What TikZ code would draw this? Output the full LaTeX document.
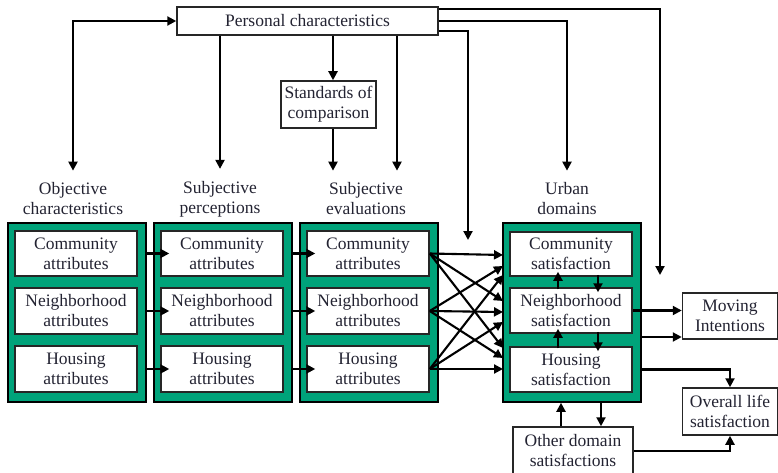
\documentclass[tikz,border=0pt]{standalone}
\usepackage{fontspec}
\setmainfont{Liberation Serif}
\usetikzlibrary{arrows.meta,calc}
\definecolor{panelgreen}{RGB}{0,163,122}
\definecolor{txt}{RGB}{35,35,50}
\tikzset{
  arr/.style={line width=2.1pt,-{Triangle[length=9pt,width=9pt]}},
  darr/.style={line width=2.1pt,{Triangle[length=9pt,width=9pt]}-{Triangle[length=9pt,width=9pt]}},
  wbox/.style={draw=black!85,line width=1.5pt,fill=white,text=txt,align=center,inner sep=0pt,
     font=\fontsize{17.5}{20}\selectfont},
  panel/.style={draw=black,line width=1.6pt,fill=panelgreen},
  lbl/.style={text=txt,align=center,inner sep=0pt,font=\fontsize{17.5}{20}\selectfont},
}
\begin{document}
\begin{tikzpicture}[x=1pt,y=-1pt]
\useasboundingbox (0,0) rectangle (778,473);

% top boxes
\node[wbox,minimum width=261pt,minimum height=28pt] (pc) at (307.5,21) {Personal characteristics};
\node[wbox,minimum width=95pt,minimum height=47pt] (std) at (328.5,104.5) {Standards of\\comparison};

% column labels
\node[lbl] (oc) at (73,199) {Objective\\characteristics};
\node[lbl] (sp) at (220,199) {Subjective\\perceptions};
\node[lbl] (se) at (366,199) {Subjective\\evaluations};
\node[lbl] (ud) at (567,199) {Urban\\domains};

% panels
\foreach \n/\x in {p1/8,p2/154,p3/300,p4/503}{
  \node[panel,minimum width=138pt,minimum height=179pt,inner sep=0pt] (\n) at (\x+69,312.5) {};
}
% inner boxes
\foreach \n/\x in {a/15,b/161,c/307}{
  \node[wbox,minimum width=122pt,minimum height=45pt] (\n1) at (\x+61,253.5) {Community\\attributes};
  \node[wbox,minimum width=122pt,minimum height=46pt] (\n2) at (\x+61,311) {Neighborhood\\attributes};
  \node[wbox,minimum width=122pt,minimum height=46pt] (\n3) at (\x+61,369) {Housing\\attributes};
}
\node[wbox,minimum width=122pt,minimum height=44pt] (d1) at (571,254) {Community\\satisfaction};
\node[wbox,minimum width=122pt,minimum height=45pt] (d2) at (571,310.5) {Neighborhood\\satisfaction};
\node[wbox,minimum width=122pt,minimum height=45pt] (d3) at (571,369.5) {Housing\\satisfaction};

% outcome boxes
\node[wbox,minimum width=95pt,minimum height=46pt] (mi) at (730,316) {Moving\\Intentions};
\node[wbox,minimum width=95pt,minimum height=47pt] (ol) at (730,411.5) {Overall life\\satisfaction};
\node[wbox,minimum width=120pt,minimum height=48pt] (od) at (573,451) {Other domain\\satisfactions};

% helper coordinates
\coordinate (xs) at (333,0);
\coordinate (xe) at (397,0);
\coordinate (xl) at (73,21);
\coordinate (t1) at (660,275);
\coordinate (t3) at (468,240);
\coordinate (u1) at (558,0);
\coordinate (u2) at (598,0);
\coordinate (v1) at (561,0);
\coordinate (v2) at (601,0);
\coordinate (m2) at (641,337);

% personal characteristics connectors
\draw[darr,shorten >=12pt] (pc.west) -- (xl) -- (oc.north);
\draw[arr,shorten >=12pt] (pc.south -| sp.north) -- (sp.north);
\draw[arr] (pc.south -| xs) -- (std.north -| xs);
\draw[arr,shorten >=12pt] (std.south -| xs) -- (se.north -| xs);
\draw[arr,shorten >=12pt] (pc.south -| xe) -- (se.north -| xe);
\draw[arr] ([yshift=-3pt]pc.north east) -| (t1);
\draw[arr,shorten >=12pt] (pc.east) -| (ud.north);
\draw[arr] ([yshift=5pt]pc.south east) -| (t3);

% panel 1 -> 2 -> 3
\foreach \s/\t in {p1/b,p2/c}{
  \foreach \i in {1,2,3}{
    \draw[arr] (\s.east |- \t\i.west) -- ([xshift=9pt]\t\i.west);
  }
}

% panel 3 -> 4 crossing
\foreach \i/\ya/\yb/\yc in {1/255/301/348,2/266/312/358,3/275/322/369}{
  \coordinate (ta\i) at (503,\ya);
  \coordinate (tb\i) at (503,\yb);
  \coordinate (tc\i) at (503,\yc);
  \draw[arr] (c\i.east) -- (ta\i);
  \draw[arr] (c\i.east) -- (tb\i);
  \draw[arr] (c\i.east) -- (tc\i);
}

% internal vertical arrows in panel 4
\draw[arr] ([yshift=-2pt]d2.north -| u1) -- ([yshift=5pt]d1.south -| u1);
\draw[arr] ([yshift=2pt]d1.south -| u2) -- ([yshift=-5pt]d2.north -| u2);
\draw[arr] ([yshift=-2pt]d3.north -| u1) -- ([yshift=5pt]d2.south -| u1);
\draw[arr] ([yshift=2pt]d2.south -| u2) -- ([yshift=-5pt]d3.north -| u2);

% outputs
\draw[arr] (d2.east) -- (d2.east -| mi.west);
\draw[arr] (m2) -- (m2 -| mi.west);
\draw[arr] (p4.east |- d3.east) -| (ol.north);
\draw[arr] (od.east) -| (ol.south);
\draw[arr] (od.north -| v1) -- (p4.south -| v1);
\draw[arr] (p4.south -| v2) -- (od.north -| v2);
\end{tikzpicture}
\end{document}
